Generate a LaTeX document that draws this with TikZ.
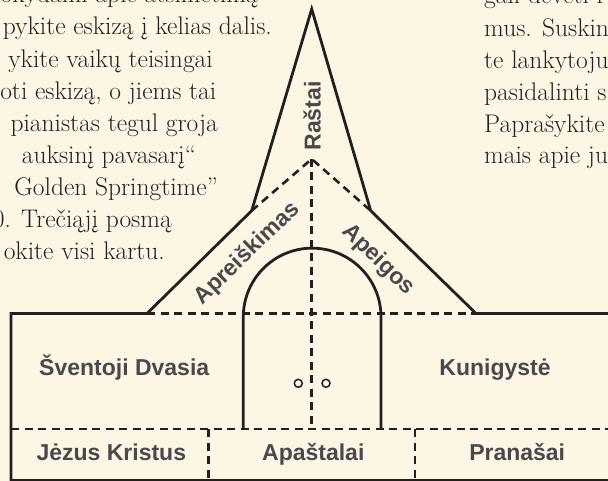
\documentclass[tikz,border=0pt]{standalone}
\usepackage{fontspec}
\newfontfamily\labfont{Liberation Sans}
\definecolor{bg}{RGB}{254,246,229}
\definecolor{ink}{RGB}{35,31,32}
\definecolor{labc}{RGB}{72,72,77}
\definecolor{txt}{RGB}{35,31,30}
\begin{document}
\begin{tikzpicture}[x=1pt,y=-1pt,
  solidl/.style={draw=ink,line width=2.8pt,line join=miter},
  dashl/.style={draw=ink,line width=2.6pt,dash pattern=on 8pt off 5.5pt},
  labtxt/.style={font=\labfont\bfseries\fontsize{23}{27}\selectfont,text=labc,inner sep=0pt},
  bodyr/.style={font=\fontsize{25.5}{30}\selectfont,text=txt,inner sep=0pt,anchor=base east},
  bodyl/.style={font=\fontsize{25.5}{30}\selectfont,text=txt,inner sep=0pt,anchor=base west}]
\useasboundingbox (0,0) rectangle (608,481);
\fill[bg] (0,0) rectangle (608,481);
\begin{scope}
\clip (0,0) rectangle (608,481);
% body text, left column
\node[bodyr] (t1) at (258,2.8) {okydami apie atsimetimą};
\node[bodyr] (t2) at (272,35) {pykite eskizą į kelias dalis.};
\node[bodyr] (t3) at (213,67.2) {ykite vaikų teisingai};
\node[bodyr] (t4) at (216.5,99.3) {oti eskizą, o jiems tai};
\node[bodyr] (t5) at (218,131.5) {pianistas tegul groja};
\node[bodyr] (t6) at (196,163.7) {auksinį pavasarį“};
\node[bodyr] (t7) at (218,195.8) {Golden Springtime”};
\node[bodyr] (t8) at (172,228) {0. Trečiąjį posmą};
\node[bodyr] (t9) at (165,260) {okite visi kartu.};
% body text, right column
\node[bodyl] (r1) at (484,4) {gali devėti r};
\node[bodyl] (r2) at (484,36.5) {mus. Suskin};
\node[bodyl] (r3) at (484,68.3) {te lankytoju};
\node[bodyl] (r4) at (484,100.2) {pasidalinti s};
\node[bodyl] (r5) at (484,132.2) {Paprašykite};
\node[bodyl] (r6) at (484,164) {mais apie ju};
% key points
\coordinate (apex) at (311.7,9);
\coordinate (sl) at (251.7,210.7);
\coordinate (sr) at (370.7,210.7);
\coordinate (dp) at (311.7,159);
\coordinate (rl) at (147,313.5);
\coordinate (rr) at (476,313.5);
\coordinate (bl) at (11,313.5);
\coordinate (br) at (614,313.5);
\coordinate (blb) at (11,486);
\coordinate (ml) at (11,429);
\coordinate (mr) at (614,429);
\coordinate (mc) at (311.7,429);
\coordinate (bot1) at (11,480.5);
\coordinate (bot2) at (614,480.5);
\coordinate (v1t) at (208.3,429);
\coordinate (v1b) at (208.3,486);
\coordinate (v2t) at (415,429);
\coordinate (v2b) at (415,486);
\coordinate (al) at (243.3,429);
\coordinate (ar) at (381,429);
% dashed lines
\draw[dashl] (sl) -- (dp) -- (sr);
\draw[dashl] (dp) -- (mc);
\draw[dashl] (rl) -- (rr);
\draw[dashl] (ml) -- (mr);
\draw[dashl] (v1t) -- (v1b);
\draw[dashl] (v2t) -- (v2b);
% solid outline
\draw[solidl] (br) -- (rr) -- (sr) -- (apex) -- (sl) -- (rl) -- (bl) -- (blb);
\draw[solidl] (bot1) -- (bot2);
% arch
\draw[solidl] (al) -- (243.3,317) arc[start angle=180,end angle=360,radius=68.85] -- (ar);
% door knobs
\draw[ink,line width=1.5pt] (298.3,383.3) circle[radius=4];
\draw[ink,line width=1.5pt] (326,383.3) circle[radius=4];
% labels
\node[labtxt,anchor=base] (sd) at (124.2,375.7) {Šventoji Dvasia};
\node[labtxt,anchor=base] (ku) at (495,375.5) {Kunigystė};
\node[labtxt,anchor=base] (jk) at (111.3,460) {Jėzus Kristus};
\node[labtxt,anchor=base] (ap) at (313.3,460) {Apaštalai};
\node[labtxt,anchor=base] (pr) at (517.2,460) {Pranašai};
\node[labtxt,anchor=base,rotate=90] (ra) at (320.5,116) {Raštai};
\node[labtxt,anchor=base,rotate=44] (apr) at (251.5,258) {Apreiškimas};
\node[labtxt,anchor=base,rotate=-44.3] (ape) at (374.2,264.2) {Apeigos};
\end{scope}
\end{tikzpicture}
\end{document}
